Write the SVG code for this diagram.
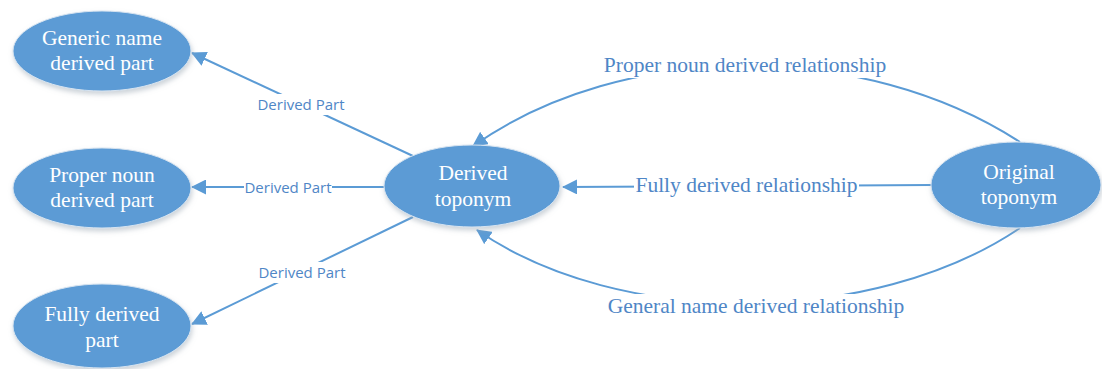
<svg xmlns="http://www.w3.org/2000/svg" width="1102" height="369" viewBox="0 0 1102 369">
<style>
.node ellipse{fill:#5b9bd5;stroke:#d6e3f0;stroke-width:1;filter:url(#sh)}
.node text{fill:#ffffff;font-family:"Liberation Serif",serif;font-size:21.5px;text-anchor:middle}
.edge{fill:none;stroke:#5b9bd5;stroke-width:2;marker-end:url(#arr)}
.lbl{fill:#4f86c6;font-family:"Liberation Serif",serif;font-size:21.5px;text-anchor:middle}
.dp{fill:#4f86c6;font-family:"Open Sans",sans-serif;font-size:15px;text-anchor:middle}
.bg{fill:#ffffff}
</style>
<defs>
<marker id="arr" markerUnits="userSpaceOnUse" markerWidth="15" markerHeight="15" viewBox="0 0 15 15" refX="14" refY="7.5" orient="auto">
<path d="M0,0 L15,7.5 L0,15 z" fill="#5b9bd5"/>
</marker>
<filter id="sh" x="-20%" y="-20%" width="140%" height="150%">
<feDropShadow dx="1" dy="3" stdDeviation="2.5" flood-color="#9aa6b2" flood-opacity="0.5"/>
</filter>
</defs>
<rect width="1102" height="369" fill="#ffffff"/>
<g id="connectors">
<line class="edge" x1="413" y1="156" x2="192" y2="53"/>
<line class="edge" x1="384" y1="187" x2="192" y2="187"/>
<line class="edge" x1="413" y1="217" x2="192" y2="324"/>
<path class="edge" d="M1020,142 C863,40 624,40 473,146"/>
<line class="edge" x1="932" y1="185" x2="563" y2="187"/>
<path class="edge" d="M1020,228 C872,328 618,328 477,230"/>
<rect class="bg" x="256" y="94" width="92" height="21"/>
<rect class="bg" x="244" y="178" width="88" height="18"/>
<rect class="bg" x="256" y="262" width="92" height="21"/>
<rect class="bg" x="600" y="50" width="290" height="28"/>
<rect class="bg" x="634" y="176" width="225" height="20"/>
<rect class="bg" x="606" y="294" width="300" height="26"/>
<text class="dp" x="301" y="110">Derived Part</text>
<text class="dp" x="288" y="193">Derived Part</text>
<text class="dp" x="302" y="278">Derived Part</text>
<text class="lbl" x="745" y="72">Proper noun derived relationship</text>
<text class="lbl" x="746.5" y="192">Fully derived relationship</text>
<text class="lbl" x="756" y="313">General name derived relationship</text>
</g>
<g id="node-generic" class="node">
<ellipse cx="102" cy="51" rx="89" ry="40"/>
<text x="102" y="45">Generic name</text>
<text x="102" y="70">derived part</text>
</g>
<g id="node-proper" class="node">
<ellipse cx="102" cy="188" rx="89" ry="40"/>
<text x="102" y="182">Proper noun</text>
<text x="102" y="207">derived part</text>
</g>
<g id="node-fully" class="node">
<ellipse cx="102" cy="326" rx="89" ry="42"/>
<text x="102" y="321">Fully derived</text>
<text x="102" y="347">part</text>
</g>
<g id="node-derived" class="node">
<ellipse cx="472" cy="186" rx="88" ry="41"/>
<text x="473" y="180">Derived</text>
<text x="473" y="206">toponym</text>
</g>
<g id="node-original" class="node">
<ellipse cx="1016" cy="185" rx="85" ry="43"/>
<text x="1019" y="179">Original</text>
<text x="1019" y="204">toponym</text>
</g>
</svg>
